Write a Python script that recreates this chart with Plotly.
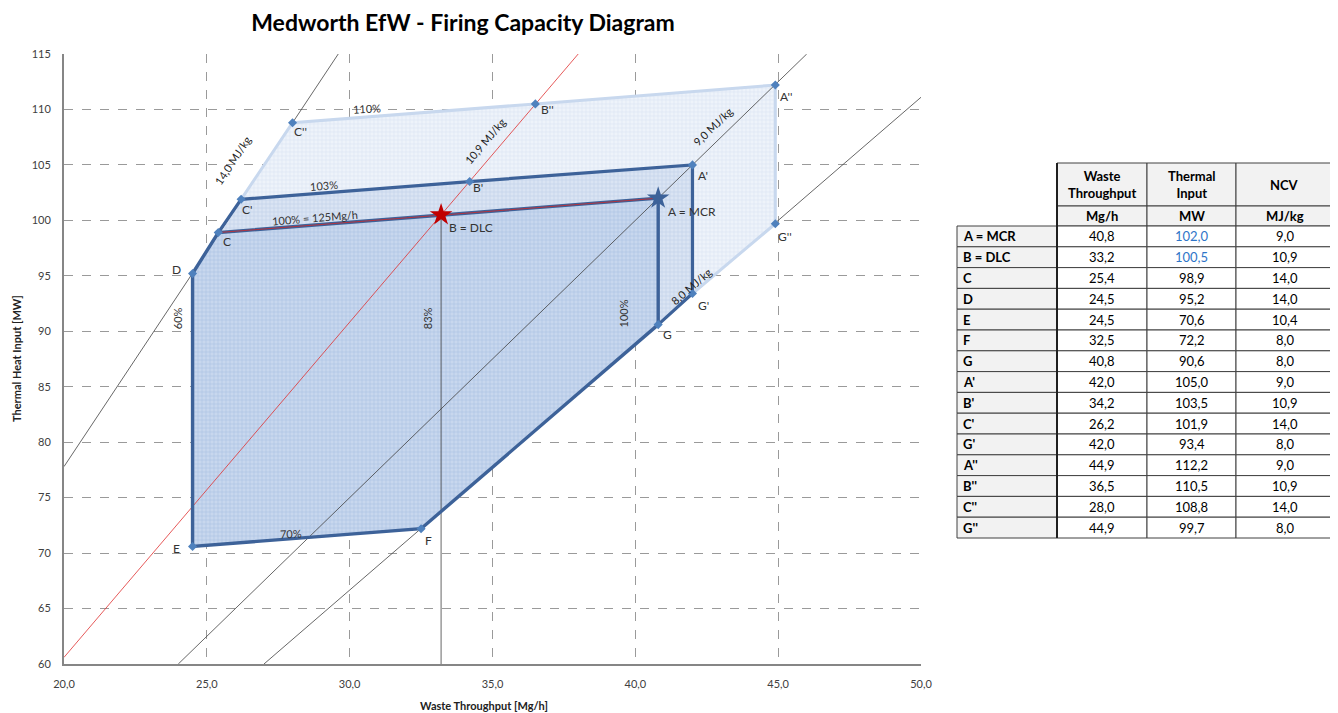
import plotly.graph_objects as go

# ---------------- data ----------------
point_names = ["A = MCR", "B = DLC", "C", "D", "E", "F", "G", "A'", "B'", "C'", "G'", "A''", "B''", "C''", "G''"]
point_keys = ["A", "B", "C", "D", "E", "F", "G", "A'", "B'", "C'", "G'", "A''", "B''", "C''", "G''"]
throughput = [40.8, 33.2, 25.4, 24.5, 24.5, 32.5, 40.8, 42.0, 34.2, 26.2, 42.0, 44.9, 36.5, 28.0, 44.9]
thermal = [102.0, 100.5, 98.9, 95.2, 70.6, 72.2, 90.6, 105.0, 103.5, 101.9, 93.4, 112.2, 110.5, 108.8, 99.7]
ncv = [9.0, 10.9, 14.0, 14.0, 10.4, 8.0, 8.0, 9.0, 10.9, 14.0, 8.0, 9.0, 10.9, 14.0, 8.0]

table_headers = ["Waste<br>Throughput", "Thermal<br>Input", "NCV"]
table_units = ["Mg/h", "MW", "MJ/kg"]

# constant NCV lines (end points)
ncv_line_labels = ["14,0 MJ/kg", "10,9 MJ/kg", "9,0 MJ/kg", "8,0 MJ/kg"]
ncv_line_x = [[20.0, 29.6], [20.0, 38.0], [24.0, 46.0], [27.0, 50.0]]
ncv_line_y = [[77.8, 115.0], [60.6, 115.0], [60.0, 115.0], [60.0, 111.1]]
ncv_line_colors = ["#404040", "#E03030", "#404040", "#404040"]
ncv_label_pos = [(25.9, 105.4), (34.75, 107.2), (42.7, 108.5), (41.95, 94.0)]
ncv_label_angle = [-56.5, -49.6, -44.1, -40.8]

# DLC vertical
dlc_x = [33.2, 33.2]
dlc_y = [60.0, 100.5]

# percentage labels
pct_labels = ["60%", "83%", "100%", "70%", "100% = 125Mg/h", "103%", "110%"]
pct_pos = [(24.0, 91.2), (32.75, 91.2), (39.6, 91.6), (27.95, 71.75), (28.8, 100.25), (29.1, 103.15), (30.6, 110.05)]
pct_angle = [-90, -90, -90, -2.5, -4.5, -4.2, -2.8]

x_ticks = [20, 25, 30, 35, 40, 45, 50]
y_ticks = [60, 65, 70, 75, 80, 85, 90, 95, 100, 105, 110, 115]

P = {k: (x, y) for k, x, y in zip(point_keys, throughput, thermal)}


def path(keys):
    return [P[k][0] for k in keys], [P[k][1] for k in keys]


poly110 = ["C''", "B''", "A''", "G''", "G'", "G", "F", "E", "D", "C", "C'", "C''"]
poly103 = ["C'", "B'", "A'", "G'", "G", "F", "E", "D", "C", "C'"]
poly100 = ["A", "B", "C", "D", "E", "F", "G", "A"]
out110 = ["C'", "C''", "B''", "A''", "G''", "G'"]
out103 = ["C", "C'", "B'", "A'", "G'", "G"]
out100 = ["A", "B", "C", "D", "E", "F", "G", "A"]
red100 = ["C", "B", "A"]

DARK = "#3D6299"
LIGHT = "#C8D8EE"
FONT = "Lato"

# the page body has an 8px margin: size the figure so it fits the 1338x713 window
OFF = 8
W, H = 1338 - OFF, 713 - OFF
ML, MR, MT, MB = 64 - OFF, 5, 54 - OFF, 49
PW, PH = W - ML - MR, H - MT - MB


def px(x):  # page pixel -> paper x
    return (x - OFF - ML) / PW


def py(y):  # page pixel -> paper y
    return (H - MB - (y - OFF)) / PH


fig = go.Figure()

# fills
for keys, bg, fg in [(poly110, "#EEF3FA", "#CAD8EE"),
                     (poly103, "#DAE4F3", "#AAC0E2"),
                     (poly100, "#C8D7EE", "#93AED8")]:
    xs, ys = path(keys)
    fig.add_trace(go.Scatter(x=xs, y=ys, mode="lines", fill="toself",
                             line=dict(width=0, color=bg),
                             fillcolor=bg,
                             fillpattern=dict(shape="+", size=4, solidity=0.3, fgcolor=fg, bgcolor=bg),
                             hoverinfo="skip", showlegend=False))

# NCV lines
for xs, ys, c in zip(ncv_line_x, ncv_line_y, ncv_line_colors):
    fig.add_trace(go.Scatter(x=xs, y=ys, mode="lines", line=dict(color=c, width=0.8),
                             hoverinfo="skip", showlegend=False))

fig.add_trace(go.Scatter(x=dlc_x, y=dlc_y, mode="lines", line=dict(color="#404040", width=0.8),
                         hoverinfo="skip", showlegend=False))

# outlines
for keys, c, w in [(out110, LIGHT, 3), (out103, DARK, 3.2), (out100, DARK, 3.4)]:
    xs, ys = path(keys)
    fig.add_trace(go.Scatter(x=xs, y=ys, mode="lines", line=dict(color=c, width=w),
                             hoverinfo="skip", showlegend=False))

xs, ys = path(red100)
fig.add_trace(go.Scatter(x=xs, y=ys, mode="lines", line=dict(color="#D02828", width=0.8),
                         hoverinfo="skip", showlegend=False))

# markers
mk_keys = [k for k in point_keys if k not in ("A", "B")]
xs, ys = path(mk_keys)
fig.add_trace(go.Scatter(x=xs, y=ys, mode="markers",
                         marker=dict(symbol="diamond", size=7, color="#4F81BD"),
                         showlegend=False))
fig.add_trace(go.Scatter(x=[P["A"][0]], y=[P["A"][1]], mode="markers",
                         marker=dict(symbol="star", size=17, color=DARK), showlegend=False))
fig.add_trace(go.Scatter(x=[P["B"][0]], y=[P["B"][1]], mode="markers",
                         marker=dict(symbol="star", size=17, color="#C00000"), showlegend=False))

# point labels
label_shift = {"A": (34, -13), "B": (30, -13), "C": (9, -9), "C'": (6, -10), "C''": (8, -9),
               "D": (-16, 4), "E": (-16, -2), "F": (7, -12), "G": (9, -10), "G'": (11, -12),
               "G''": (10, -13), "A'": (11, -11), "A''": (11, -11), "B'": (8, -6), "B''": (12, -6)}
label_text = {"A": "A = MCR", "B": "B = DLC"}
for k in point_keys:
    dx, dy = label_shift[k]
    fig.add_annotation(x=P[k][0], y=P[k][1], text=label_text.get(k, k), showarrow=False,
                       xshift=dx, yshift=dy, font=dict(family=FONT, size=12, color="#333333"))

for t, (x, y), a in zip(ncv_line_labels, ncv_label_pos, ncv_label_angle):
    fig.add_annotation(x=x, y=y, text=t, textangle=a, showarrow=False,
                       font=dict(family=FONT, size=11, color="#222222"))

for t, (x, y), a in zip(pct_labels, pct_pos, pct_angle):
    fig.add_annotation(x=x, y=y, text=t, textangle=a, showarrow=False,
                       font=dict(family=FONT, size=11, color="#333333"))

# axis titles
fig.add_annotation(xref="paper", yref="paper", x=px(484), y=py(705), text="<b>Waste Throughput [Mg/h]</b>",
                   showarrow=False, xanchor="center", yanchor="middle",
                   font=dict(family=FONT, size=11, color="#222222"))
fig.add_annotation(xref="paper", yref="paper", x=px(16), y=py(359), text="<b>Thermal Heat Input [MW]</b>",
                   textangle=-90, showarrow=False, xanchor="center", yanchor="middle",
                   font=dict(family=FONT, size=11, color="#222222"))

# ---------------- table (shapes + text) ----------------
col_edges = [957, 1057, 1147, 1236, 1333]
row_edges = [163, 206, 226] + [226 + 20.8 * (i + 1) for i in range(len(point_names))]
GRAY = "#F2F2F2"
LINE = "#404040"
fmt = lambda v: f"{v:.1f}".replace(".", ",")
columns = [[fmt(v) for v in throughput], [fmt(v) for v in thermal], [fmt(v) for v in ncv]]
blue_rows = {1: [0, 1]}  # thermal values for MCR/DLC shown blue


def cell(c, r, fill, lw=1):
    fig.add_shape(type="rect", xref="paper", yref="paper",
                  x0=px(col_edges[c]), x1=px(col_edges[c + 1]),
                  y0=py(row_edges[r + 1]), y1=py(row_edges[r]),
                  fillcolor=fill, line=dict(color=LINE, width=lw), layer="above")


def text(c, r, t, bold=False, color="black", left=False):
    x = px(col_edges[c] + 4) if left else px((col_edges[c] + col_edges[c + 1]) / 2)
    y = py((row_edges[r] + row_edges[r + 1]) / 2)
    fig.add_annotation(xref="paper", yref="paper", x=x, y=y, text=f"<b>{t}</b>" if bold else t,
                       showarrow=False, xanchor="left" if left else "center", yanchor="middle",
                       font=dict(family=FONT, size=13, color=color))


for ci in range(3):
    cell(ci + 1, 0, GRAY)
    text(ci + 1, 0, table_headers[ci], bold=True)
    cell(ci + 1, 1, GRAY)
    text(ci + 1, 1, table_units[ci], bold=True)
for ri, name in enumerate(point_names):
    r = ri + 2
    cell(0, r, GRAY)
    text(0, r, name, bold=True, left=True)
    for ci in range(3):
        cell(ci + 1, r, "white")
        col = "#2E75C8" if ci in blue_rows and ri in blue_rows[ci] else "black"
        text(ci + 1, r, columns[ci][ri], color=col)
# heavier separator between label column and values
fig.add_shape(type="line", xref="paper", yref="paper", x0=px(col_edges[1]), x1=px(col_edges[1]),
              y0=py(row_edges[-1]), y1=py(row_edges[0]), line=dict(color="#202020", width=2), layer="above")

fig.update_layout(
    width=W, height=H,
    margin=dict(l=ML, r=MR, t=MT, b=MB),
    paper_bgcolor="white", plot_bgcolor="white",
    separators=", ",
    showlegend=False,
    title=dict(text="<b>Medworth EfW - Firing Capacity Diagram</b>", x=(463 - OFF) / W, xanchor="center",
               y=1 - (23 - OFF) / H, yanchor="middle", font=dict(family=FONT, size=23, color="black")),
    xaxis=dict(domain=[0, px(921)], range=[20, 50], tickvals=x_ticks, tickformat=".1f",
               showgrid=True, gridcolor="#9A9A9A", griddash="dash", gridwidth=1,
               showline=True, linecolor="#868686", linewidth=2, zeroline=False, automargin=False,
               ticks="outside", ticklen=9, tickcolor="rgba(0,0,0,0)",
               tickfont=dict(family=FONT, size=11, color="#404040")),
    yaxis=dict(range=[60, 115], tickvals=y_ticks,
               showgrid=True, gridcolor="#9A9A9A", griddash="dash", gridwidth=1,
               showline=True, linecolor="#868686", linewidth=2, zeroline=False, automargin=False,
               ticks="outside", ticklen=9, tickcolor="rgba(0,0,0,0)",
               tickfont=dict(family=FONT, size=11, color="#404040")),
)

fig.write_html("out.html")
